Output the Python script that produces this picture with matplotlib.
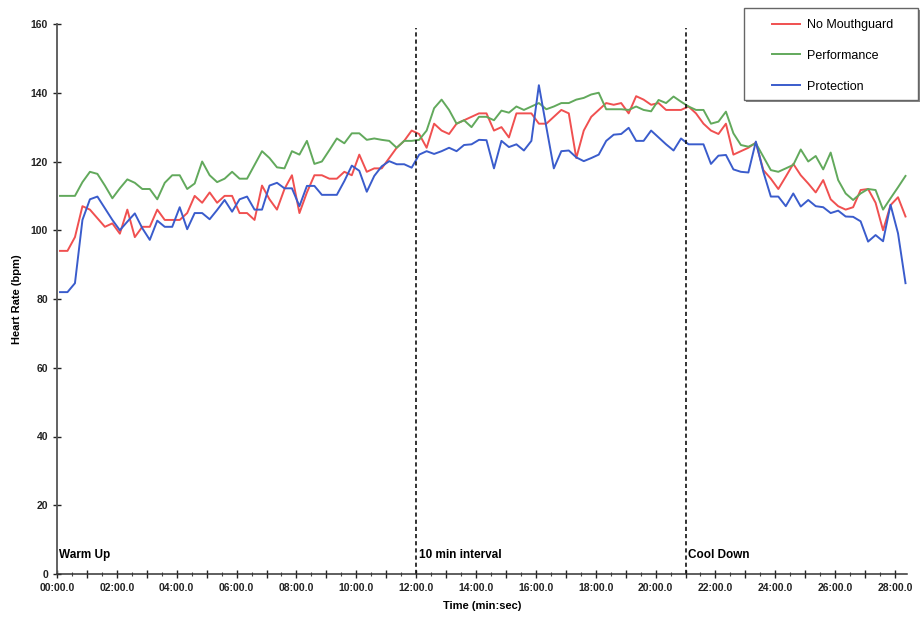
import matplotlib.pyplot as plt
import numpy as np
from matplotlib.patches import Rectangle
from matplotlib.ticker import MultipleLocator, FuncFormatter

plt.rcParams['font.family'] = ['Liberation Sans', 'DejaVu Sans']

# samples every 15 s, first one a few seconds in
START_MIN = 0.1
SAMPLE_MIN = 0.25

no_mouthguard = [
    94, 94, 98, 107, 106, 103.5, 101, 102, 99, 106, 98, 101, 101, 106, 103, 103, 103, 105, 110, 108,
    111, 108, 110, 110, 105, 105, 103, 113,
    109, 106, 112, 116, 105, 111, 116, 116, 115, 115, 117, 116, 122, 117, 118, 118, 121, 124, 126, 129,
    128, 124, 131,
    129, 128, 131, 132, 133, 134, 134, 129, 130, 127,
    134, 134, 134, 131, 131, 133, 135, 134, 121, 129,
    133, 135, 137, 136.5, 137, 134, 139, 138, 136.5, 137,
    135, 135, 135, 136, 134, 131, 129, 128, 131, 122,
    123, 124, 125.5, 117.5, 115, 112, 115.6, 119.3, 116, 113.6,
    111, 114.6, 109, 107, 106, 106.7, 111.7, 112, 108, 100,
    107.3, 109.6, 104,
]
performance = [
    110, 110, 110, 114, 117, 116.4, 113, 109.3, 112.2, 114.8, 113.8, 112, 112, 109, 113.8, 116, 116, 112,
    113.6, 120, 116, 114, 115, 117, 115, 115, 119, 123,
    121, 118.3, 118, 123, 122, 126, 119.3, 120, 123.3, 126.7,
    125.3, 128.2, 128.2, 126.3, 126.7, 126.3, 126, 124, 126, 126,
    126.3, 129, 135.5, 138, 135, 131, 132, 130, 133, 133,
    132, 134.8, 134.2, 136, 135, 136, 137, 135.2, 136, 137,
    137, 138, 138.5, 139.5, 140, 135.2, 135.2, 135.2, 135, 136,
    135, 134.6, 137.9, 137, 138.9, 137.4, 136, 135, 135, 131,
    131.6, 134.5, 128.2, 124.8, 124.3, 125.3, 121.4, 117.5, 117, 118,
    119, 123.5, 120, 121.6, 117.7, 122.6, 114.6, 110.7, 108.8, 110.7,
    112, 111.7, 106, 109.3, 112.5, 115.8,
]
protection = [
    82, 82, 84.6, 103, 109, 109.8, 106.4, 103, 100, 102.5, 104.9, 100.6, 97.2, 102.8, 101, 101, 106.7,
    100.3, 105, 105, 103.2, 105.9, 108.8, 105.4, 109, 109.8, 106, 106,
    113, 113.8, 112.2, 112.2, 107, 112.9, 112.9, 110.3, 110.3, 110.3,
    114.3, 118.8, 117.3, 111.2, 115.8, 118.6, 120.1, 119.2, 119.2, 118.2,
    122, 123, 122.2, 123, 124, 123, 124.8, 125, 126.3, 126.2,
    118, 126, 124.2, 125, 123.2, 126, 142.2, 130, 118, 123,
    123.2, 121.2, 120.1, 121, 122, 126, 127.8, 128, 129.8, 126,
    126, 129, 127, 125, 123.2, 126.7, 125, 125, 125, 119.3,
    121.7, 121.9, 117.7, 117, 116.8, 125.8, 117, 109.8, 109.8, 107,
    110.7, 106.9, 108.8, 107, 106.7, 105, 105.7, 104, 103.9, 102.6,
    96.7, 98.6, 96.8, 107.4, 99.1, 84.6,
]
series_names = ['No Mouthguard', 'Performance', 'Protection']
series_colors = ['#f05050', '#62a95c', '#3a5ccc']

phase_starts = [0, 12, 21]
phase_labels = ['Warm Up', '10 min interval', 'Cool Down']

t = START_MIN + SAMPLE_MIN * np.arange(len(no_mouthguard))

fig = plt.figure(figsize=(9.22, 6.19), dpi=100)
ax = fig.add_axes([57 / 922, 45 / 619, 850 / 922, 550 / 619])

lines = []
for vals, name, col in zip([no_mouthguard, performance, protection], series_names, series_colors):
    ln, = ax.plot(t, vals, color=col, lw=1.4, label=name)
    lines.append(ln)

ax.vlines(phase_starts[1:], 0, 158.8, colors='#111', linestyles=(0, (2.5, 1.8)), lw=1.2)
for x0, lab in zip(phase_starts, phase_labels):
    ax.text(x0 + 0.08, 5.5, lab, fontsize=8.5, fontweight='bold', va='center', ha='left')

ax.set_xlim(0, 28.4)
ax.set_ylim(0, 160)
ax.yaxis.set_major_locator(MultipleLocator(20))
ax.xaxis.set_major_locator(MultipleLocator(1))
ax.xaxis.set_minor_locator(MultipleLocator(0.5))
ax.xaxis.set_major_formatter(FuncFormatter(
    lambda v, p: f"{int(round(v)):02d}:00.0" if int(round(v)) % 2 == 0 else ''))

for s in ['top', 'right']:
    ax.spines[s].set_visible(False)
ax.spines['left'].set_color('#555')
ax.spines['left'].set_linewidth(1.3)
ax.spines['bottom'].set_color('#333')
ax.spines['bottom'].set_linewidth(1.1)

ax.tick_params(axis='both', which='major', direction='inout', length=6, width=1,
               labelsize=7.5, colors='#222')
ax.tick_params(axis='x', which='minor', direction='inout', length=3, width=0.8, colors='#444')
for lab in ax.get_xticklabels() + ax.get_yticklabels():
    lab.set_fontweight('bold')

ax.set_xlabel('Time (min:sec)', fontsize=8, fontweight='bold', labelpad=6)
ax.set_ylabel('Heart Rate (bpm)', fontsize=8, fontweight='bold', labelpad=6)

# legend box drawn by hand: wide side margins, tight top/bottom
fig.patches.append(Rectangle((746 / 922, 1 - 102 / 619), 174 / 922, 92 / 619,
                             transform=fig.transFigure, facecolor='#888', edgecolor='none',
                             zorder=4))
fig.patches.append(Rectangle((744 / 922, 1 - 100 / 619), 174 / 922, 92 / 619,
                             transform=fig.transFigure, facecolor='white', edgecolor='#666',
                             lw=1.0, zorder=5))
leg = fig.legend(handles=lines, loc='upper left', bbox_to_anchor=(772 / 922, 1 - 19 / 619),
                 frameon=False, fontsize=9, borderpad=0, borderaxespad=0,
                 labelspacing=1.5, handlelength=2.2, handletextpad=0.6)
leg.set_zorder(6)

fig.savefig('out.png', dpi=100)
